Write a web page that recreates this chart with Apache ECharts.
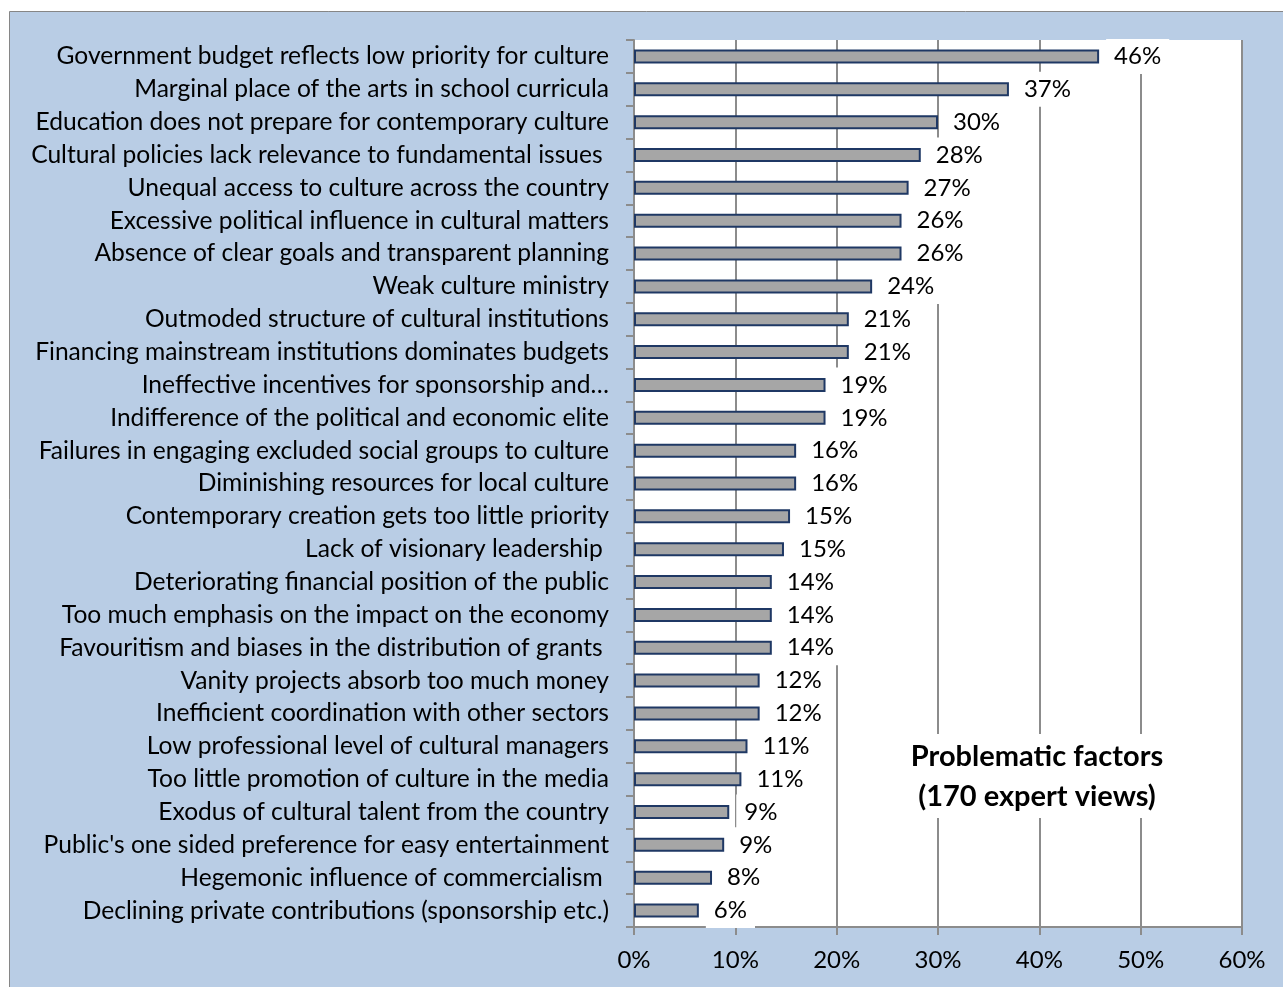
<!DOCTYPE html>
<html><head><meta charset="utf-8">
<script src="https://cdn.jsdelivr.net/npm/echarts@6/dist/echarts.min.js"></script>
<style>html,body{margin:0;padding:0;background:#fff;}#c{width:1283px;height:987px;}</style>
</head><body><div id="c"></div>
<script>
const categories = [
"Government budget reflects low priority for culture",
"Marginal place of the arts in school curricula",
"Education does not prepare for contemporary culture",
"Cultural policies lack relevance to fundamental issues ",
"Unequal access to culture across the country",
"Excessive political influence in cultural matters",
"Absence of clear goals and transparent planning",
"Weak culture ministry",
"Outmoded structure of cultural institutions",
"Financing mainstream institutions dominates budgets",
"Ineffective incentives for sponsorship and…",
"Indifference of the political and economic elite",
"Failures in engaging excluded social groups to culture",
"Diminishing resources for local culture",
"Contemporary creation gets too little priority",
"Lack of visionary leadership ",
"Deteriorating financial position of the public",
"Too much emphasis on the impact on the economy",
"Favouritism and biases in the distribution of grants ",
"Vanity projects absorb too much money",
"Inefficient coordination with other sectors",
"Low professional level of cultural managers",
"Too little promotion of culture in the media",
"Exodus of cultural talent from the country",
"Public's one sided preference for easy entertainment",
"Hegemonic influence of commercialism ",
"Declining private contributions (sponsorship etc.)"
];
const values = [45.9, 37.0, 30.0, 28.3, 27.1, 26.4, 26.4, 23.5, 21.2, 21.2, 18.9, 18.9, 16.0, 16.0, 15.4, 14.8, 13.6, 13.6, 13.6, 12.4, 12.4, 11.2, 10.6, 9.4, 8.9, 7.7, 6.4];
const xTicks = [0, 10, 20, 30, 40, 50, 60];
const titleLines = ["Problematic factors", "(170 expert views)"];

const FONT = "Lato";
const chart = echarts.init(document.getElementById('c'), null, {renderer: 'canvas'});
chart.setOption({
  animation: false,
  backgroundColor: '#ffffff',
  textStyle: {fontFamily: FONT, color: '#000'},
  graphic: [
    {type: 'rect', z: -10, silent: true, shape: {x: 9.5, y: 11.5, width: 1300, height: 1000},
     style: {fill: '#b9cde5', stroke: '#868686', lineWidth: 1}},
    {type: 'rect', z: 99, silent: true, shape: {x: 903, y: 734, width: 268, height: 84},
     style: {fill: '#ffffff'}},
    {type: 'text', z: 100, silent: true, style: {
      x: 1037, y: 757, text: titleLines[0], fontFamily: FONT, fontWeight: 'bold', fontSize: 29,
      align: 'center', verticalAlign: 'middle', fill: '#000'}},
    {type: 'text', z: 100, silent: true, style: {
      x: 1037, y: 797, text: titleLines[1], fontFamily: FONT, fontWeight: 'bold', fontSize: 29,
      align: 'center', verticalAlign: 'middle', fill: '#000'}}
  ],
  grid: {left: 634, right: 41, top: 40, bottom: 60, show: true, backgroundColor: '#ffffff', borderWidth: 0, containLabel: false},
  xAxis: {
    type: 'value', min: xTicks[0], max: xTicks[xTicks.length - 1], interval: 10,
    axisLine: {show: true, lineStyle: {color: '#8c8c8c', width: 2}},
    axisTick: {show: true, length: 8, lineStyle: {color: '#8c8c8c', width: 2}},
    splitLine: {show: true, lineStyle: {color: '#8c8c8c', width: 2}},
    axisLabel: {formatter: '{value}%', fontSize: 24, margin: 21, color: '#000', fontFamily: FONT}
  },
  yAxis: {
    type: 'category', data: categories, inverse: true,
    axisLine: {show: true, lineStyle: {color: '#8c8c8c', width: 2}},
    axisTick: {show: true, length: 8, alignWithLabel: false, lineStyle: {color: '#8c8c8c', width: 2}},
    axisLabel: {fontSize: 24.6, margin: 25, color: '#000', fontFamily: FONT}
  },
  series: [{
    type: 'bar', data: values, barWidth: 14,
    itemStyle: {color: '#a6a6a6', borderColor: '#1f3864', borderWidth: 2},
    label: {show: true, position: 'right', distance: 7, formatter: p => Math.round(p.value) + '%',
      fontSize: 24, fontFamily: FONT, color: '#000', backgroundColor: '#ffffff', padding: [6, 8, 5, 8]},
    z: 3
  }]
});
</script></body></html>
